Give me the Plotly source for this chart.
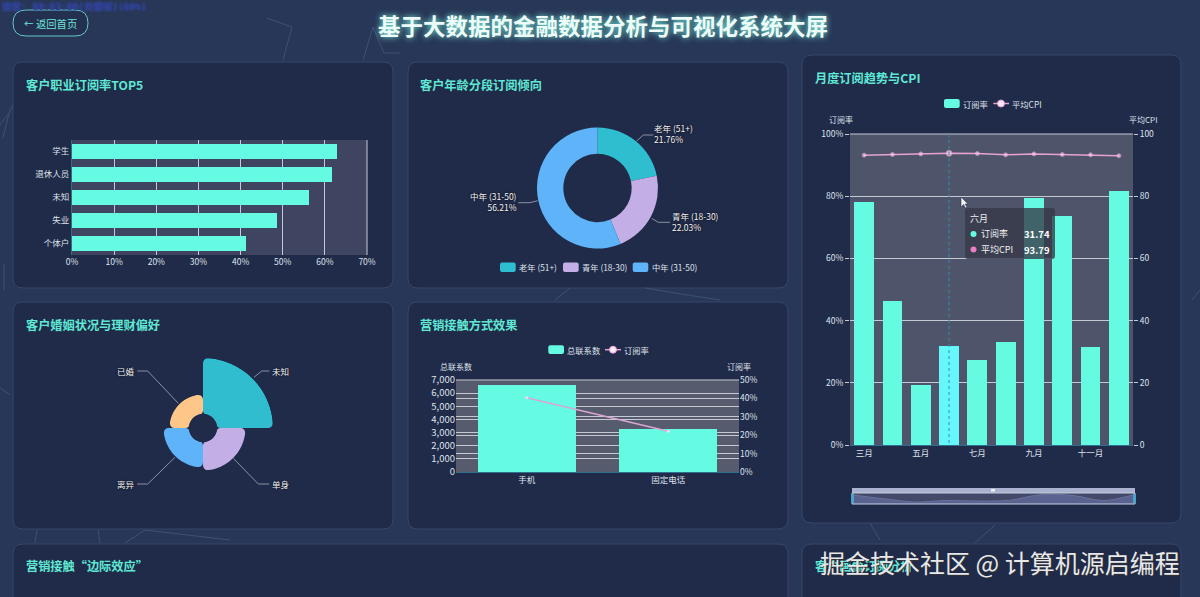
import math

import plotly.graph_objects as go

W, H = 1200, 597

# chart data
job_names = ["学生", "退休人员", "未知", "失业", "个体户"]
job_rate = [62.9, 61.7, 56.2, 48.6, 41.2]

age_names = ["老年 (51+)", "青年 (18-30)", "中年 (31-50)"]
age_share = [21.76, 22.03, 56.21]

marital_names = ["未知", "单身", "离异", "已婚"]
marital_value = [56, 28.5, 25.5, 19.5]

months = ["三月", "四月", "五月", "六月", "七月", "八月", "九月", "十月", "十一月", "十二月"]
month_rate = [78.2, 46.4, 19.3, 31.74, 27.3, 33.0, 79.5, 73.7, 31.5, 81.6]
month_cpi = [93.2, 93.4, 93.6, 93.79, 93.7, 93.3, 93.6, 93.4, 93.3, 93.0]
hover_idx = 3

contact_names = ["手机", "固定电话"]
contact_total = [6640, 3300]
contact_rate = [40.4, 22.2]

TEAL = "#64fbe2"
TITLE = "#5fe8d4"
PINK = "#e8a2d6"
TICK = "#dfe3ea"
GRID = "#c4c9d4"
AGE_COLORS = ["#2fbdd0", "#c3aee6", "#5fb3f8"]
ROSE_COLORS = ["#31bdd0", "#c3aee6", "#5fb3f8", "#ffc68a"]
CJK = "Noto Sans CJK SC"

ROSE_HOLE = 14
ROSE_MAX = 56


def px(x):
    return x / W


def py(y):
    return 1 - y / H


def label(x, y, text, size=9, color=TICK, anchor="left", shadow=None, bold=False, family=CJK):
    font = dict(family=family, size=size, color=color)
    if shadow:
        font["shadow"] = shadow
    if bold:
        text = "<b>" + text + "</b>"
    return dict(x=px(x), y=py(y), xref="paper", yref="paper", text=text, showarrow=False,
                xanchor=anchor, yanchor="middle", font=font, align=anchor)


def round_rect(x0, y0, x1, y1, r, fill, line=None, lw=1, layer="below"):
    p = (f"M{px(x0 + r)},{py(y0)} L{px(x1 - r)},{py(y0)} Q{px(x1)},{py(y0)} {px(x1)},{py(y0 + r)} "
         f"L{px(x1)},{py(y1 - r)} Q{px(x1)},{py(y1)} {px(x1 - r)},{py(y1)} "
         f"L{px(x0 + r)},{py(y1)} Q{px(x0)},{py(y1)} {px(x0)},{py(y1 - r)} "
         f"L{px(x0)},{py(y0 + r)} Q{px(x0)},{py(y0)} {px(x0 + r)},{py(y0)} Z")
    return dict(type="path", path=p, xref="paper", yref="paper", layer=layer,
                fillcolor=fill, line=dict(color=line or fill, width=lw if line else 0))


def card(x0, y0, x1, y1):
    return round_rect(x0, y0, x1, y1, 10, "#202a49", line="#36476b")


def rect(x0, y0, x1, y1, fill, line=None, layer="below", lw=1):
    return dict(type="rect", xref="paper", yref="paper", x0=px(x0), x1=px(x1), y0=py(y0), y1=py(y1),
                fillcolor=fill, line=dict(color=line or fill, width=lw if line else 0), layer=layer)


def polyline(points, color="#8a91a3", width=1, layer="below"):
    p = "M" + " L".join(f"{px(a)},{py(b)}" for a, b in points)
    return dict(type="path", path=p, xref="paper", yref="paper", layer=layer,
                line=dict(color=color, width=width))


def dot(x, y, r, fill, line=None, layer="below"):
    return dict(type="circle", xref="paper", yref="paper", layer=layer, fillcolor=fill,
                line=dict(color=line or fill, width=1 if line else 0),
                x0=px(x - r), x1=px(x + r), y0=py(y - r), y1=py(y + r))


def rounded_sector(value, a0, a1, c=6.0, n=8):
    # outline of a rose sector with soft corners, as (r, theta) for the polar axis
    outer = ROSE_HOLE + value
    inner = ROSE_HOLE

    def to_xy(rho, deg):
        return rho * math.sin(math.radians(deg)), rho * math.cos(math.radians(deg))

    def corner(p0, ctrl, p1):
        out = []
        for i in range(n + 1):
            t = i / n
            out.append(((1 - t) ** 2 * p0[0] + 2 * t * (1 - t) * ctrl[0] + t ** 2 * p1[0],
                        (1 - t) ** 2 * p0[1] + 2 * t * (1 - t) * ctrl[1] + t ** 2 * p1[1]))
        return out

    d_out = math.degrees(c / outer)
    d_in = math.degrees(4.0 / inner)
    pts = []
    for i in range(31):
        pts.append(to_xy(outer, a0 + d_out + (a1 - a0 - 2 * d_out) * i / 30))
    pts += corner(to_xy(outer, a1 - d_out), to_xy(outer, a1), to_xy(outer - c, a1))
    pts += corner(to_xy(inner + 4, a1), to_xy(inner, a1), to_xy(inner, a1 - d_in))
    for i in range(13):
        pts.append(to_xy(inner, a1 - d_in - (a1 - a0 - 2 * d_in) * i / 12))
    pts += corner(to_xy(inner, a0 + d_in), to_xy(inner, a0), to_xy(inner + 4, a0))
    pts += corner(to_xy(outer - c, a0), to_xy(outer, a0), to_xy(outer, a0 + d_out))
    r = [math.hypot(x, y) - ROSE_HOLE for x, y in pts]
    theta = [math.degrees(math.atan2(x, y)) % 360 for x, y in pts]
    return r, theta


fig = go.Figure()

# occupation bars
fig.add_trace(go.Bar(y=job_names, x=job_rate, orientation="h", width=0.68, xaxis="x", yaxis="y",
                     marker=dict(color=TEAL, line=dict(width=0)), showlegend=False))

# age donut
fig.add_trace(go.Pie(labels=age_names, values=age_share, hole=0.565, sort=False, direction="clockwise",
                     rotation=0, textinfo="none", showlegend=False,
                     marker=dict(colors=AGE_COLORS, line=dict(width=0)),
                     domain=dict(x=[px(537), px(658)], y=[py(248.5), py(127.5)])))

# marital rose, one quarter for each group
for i, name in enumerate(marital_names):
    r, theta = rounded_sector(marital_value[i], 90 * i, 90 * (i + 1))
    fig.add_trace(go.Scatterpolar(r=r, theta=theta, mode="lines", fill="toself", name=name,
                                  fillcolor=ROSE_COLORS[i], line=dict(width=0, color=ROSE_COLORS[i]),
                                  subplot="polar", showlegend=False))

# monthly bars and CPI line
fig.add_trace(go.Bar(x=months, y=month_rate, name="订阅率", width=0.7, xaxis="x2", yaxis="y2", showlegend=False,
                     marker=dict(color=["#66f7fb" if i == hover_idx else TEAL for i in range(len(months))],
                                 line=dict(width=0))))
fig.add_trace(go.Scatter(x=months, y=month_cpi, name="平均CPI", mode="lines+markers", xaxis="x2", yaxis="y3",
                         showlegend=False, line=dict(color=PINK, width=1.5),
                         marker=dict(color="#f4d8ee", line=dict(color=PINK, width=1),
                                     size=[6 if i == hover_idx else 4 for i in range(len(months))])))

# contact bars and rate line
fig.add_trace(go.Bar(x=contact_names, y=contact_total, name="总联系数", width=0.69, xaxis="x3", yaxis="y4",
                     showlegend=False, marker=dict(color=TEAL, line=dict(width=0))))
fig.add_trace(go.Scatter(x=contact_names, y=contact_rate, name="订阅率", mode="lines+markers", xaxis="x3", yaxis="y5",
                         showlegend=False, line=dict(color="#d9a6d4", width=1.5),
                         marker=dict(color="#f4d8ee", size=3)))

# data zoom preview
fig.add_trace(go.Scatter(x=months, y=month_rate, mode="lines", line=dict(color="#6a719c", width=1, shape="spline"),
                         fill="tozeroy", fillcolor="#5a628f", xaxis="x4", yaxis="y6", showlegend=False))

shapes = [card(13, 62, 393, 288), card(408, 62, 788, 288), card(802, 55, 1181, 523),
          card(13, 302, 393, 529), card(408, 302, 788, 529), card(13, 544, 788, 640), card(802, 544, 1181, 640)]

# background network
net = [[(267, 18), (292, 27), (283, 60)], [(373, 27), (363, 60)], [(373, 27), (384, 53), (400, 53)],
       [(0, 125), (9, 113), (13, 105)], [(9, 113), (3, 138)], [(4, 264), (4, 290)],
       [(37, 530), (35, 543)], [(98, 530), (100, 543)], [(125, 543), (145, 530), (230, 540)],
       [(0, 388), (10, 395)], [(570, 288), (555, 300)], [(645, 288), (700, 297), (720, 300)],
       [(1192, 300), (1200, 290)], [(870, 523), (880, 540)], [(995, 525), (975, 543)]]
for seg in net:
    shapes.append(polyline(seg, color="#3f5075", width=1))

# plot backgrounds
shapes.append(rect(72, 140, 367, 255, "#3f4560"))
shapes.append(rect(850, 134, 1133, 445, "#4e5469"))
shapes.append(rect(456, 380, 739, 472, "#565c6e"))

# grid lines that fall on the edge of the plot
shapes += [polyline([(367, 140), (367, 255)], color=GRID),
           polyline([(850, 134), (1133, 134)], color=GRID),
           polyline([(456, 380), (739, 380)], color="#9a9fac", width=1.5)]

# leader lines
shapes += [polyline([(636.7, 141), (643.3, 135), (653.3, 135)]),
           polyline([(651.7, 218.3), (658.3, 222.3), (670, 222.3)]),
           polyline([(537.7, 200.7), (530, 202.7), (518.3, 202.7)]),
           polyline([(254, 377.3), (261.7, 371), (269.3, 371)]),
           polyline([(233.3, 458.3), (258.3, 484), (269.3, 484)]),
           polyline([(175, 457.3), (147.7, 484), (137.3, 484)]),
           polyline([(178.3, 403.3), (147.7, 371), (137.3, 371)])]

# legend keys
shapes += [round_rect(500, 262.5, 515.7, 272, 2, AGE_COLORS[0]),
           round_rect(563, 262.5, 578.7, 272, 2, AGE_COLORS[1]),
           round_rect(632.7, 262.5, 648.3, 272, 2, AGE_COLORS[2]),
           round_rect(944, 99, 959.7, 108, 2, TEAL),
           polyline([(993.3, 103.5), (1009, 103.5)], color=PINK, width=1.5),
           dot(1001, 103.5, 3.5, "#fbe8f6", line=PINK),
           round_rect(548.3, 345.3, 564, 354, 2, TEAL),
           polyline([(605, 349.7), (621, 349.7)], color=PINK, width=1.5),
           dot(613, 349.7, 3.5, "#fbe8f6", line=PINK)]

# back button
shapes.append(round_rect(13, 10, 88, 36, 13, "#24304f", line="#5fc9c4"))

# data zoom frame
shapes.append(rect(852, 488, 1135, 493, "#aab2d0", layer="below"))
shapes.append(rect(852, 493, 1135, 504, "#434969", layer="below"))
shapes.append(rect(852, 493, 1135, 504, "rgba(0,0,0,0)", line="#c5d0e0", layer="above"))
shapes.append(rect(851, 494, 854, 503, "#4aa3c8", layer="above"))
shapes.append(rect(1133, 494, 1136, 503, "#4aa3c8", layer="above"))
shapes.append(rect(991, 489, 995, 491.5, "#eef0f6", layer="above"))

# hover pointer and tooltip
shapes.append(dict(type="line", xref="x2", yref="paper", x0=months[hover_idx], x1=months[hover_idx],
                   y0=py(134), y1=py(445), layer="above", line=dict(color="#3a8ab8", width=1, dash="dot")))
shapes.append(round_rect(965, 208, 1055, 259, 3, "rgba(52,56,70,0.78)", layer="above"))
shapes.append(dot(973.5, 234, 3, TEAL, layer="above"))
shapes.append(dot(973.5, 249.5, 3, "#e87fc0", layer="above"))
shapes.append(dict(type="path", xref="paper", yref="paper", layer="above", fillcolor="#f2f3f6",
                   line=dict(color="#22283c", width=0.5),
                   path=f"M{px(961)},{py(197)} L{px(961)},{py(207)} L{px(963.5)},{py(204.5)} L{px(965.5)},{py(208)} "
                        f"L{px(967)},{py(207)} L{px(965)},{py(204)} L{px(968)},{py(204)} Z"))

glow = "0 0 6px #7ffbe6"
halo = "0 0 2px #000"
annotations = [
    label(602.5, 25, "基于大数据的金融数据分析与可视化系统大屏", size=22.5, color="#eefcf9", anchor="center", shadow=glow, bold=True),
    label(0, 6, "搜索: 00:03:00(关键帧)(60%)", size=9.5, color="#26358c", shadow="0 0 2px #4a66e8",
          family="DejaVu Sans Mono, Noto Sans CJK SC"),
    label(22, 23, "←", size=9.5, color="#6fe3d8"),
    label(34, 23, "返回首页", size=10.3, color="#6fe3d8"),
    label(24, 85, "客户职业订阅率TOP5", size=12.2, color=TITLE, bold=True),
    label(418, 85, "客户年龄分段订阅倾向", size=12.2, color=TITLE, bold=True),
    label(813, 78, "月度订阅趋势与CPI", size=12.2, color=TITLE, bold=True),
    label(24, 325, "客户婚姻状况与理财偏好", size=12.2, color=TITLE, bold=True),
    label(418, 325, "营销接触方式效果", size=12.2, color=TITLE, bold=True),
    label(24, 566, "营销接触“边际效应”", size=12.2, color=TITLE, bold=True),
    label(813, 566, "客户画像订阅分析", size=12.2, color=TITLE, bold=True),
    label(1000, 562, "掘金技术社区 @ 计算机源启编程", size=25, color="#e6e8ec", anchor="center", shadow="1px 1px 1px #333"),
    # axis names
    label(841, 120, "订阅率", size=8, anchor="center"),
    label(1143, 120, "平均CPI", size=8, anchor="center"),
    label(456, 366, "总联系数", size=8, anchor="center"),
    label(739, 366, "订阅率", size=8, anchor="center"),
    # legends
    label(517, 267, age_names[0], size=8.3),
    label(580, 267, age_names[1], size=8.3),
    label(649.6, 267, age_names[2], size=8.3),
    label(961, 103.5, "订阅率", size=8.3),
    label(1010, 103.5, "平均CPI", size=8.3),
    label(565, 349.7, "总联系数", size=8.3),
    label(622, 349.7, "订阅率", size=8.3),
    # donut labels
    label(652, 133, f"{age_names[0]}<br>{age_share[0]:.2f}%", size=8.5, color="#f4f4f4", shadow=halo),
    label(670, 221, f"{age_names[1]}<br>{age_share[1]:.2f}%", size=8.5, color="#f4f4f4", shadow=halo),
    label(519, 201, f"{age_names[2]}<br>{age_share[2]:.2f}%", size=8.5, color="#f4f4f4", anchor="right", shadow=halo),
    # rose labels
    label(280, 371, marital_names[0], size=8.5, color="#f4f4f4", anchor="center", shadow=halo),
    label(280, 484, marital_names[1], size=8.5, color="#f4f4f4", anchor="center", shadow=halo),
    label(126, 484, marital_names[2], size=8.5, color="#f4f4f4", anchor="center", shadow=halo),
    label(126, 371, marital_names[3], size=8.5, color="#f4f4f4", anchor="center", shadow=halo),
    # tooltip
    label(968, 219, months[hover_idx], size=9, color="#f0f0f0"),
    label(979, 234, "订阅率", size=9, color="#f0f0f0"),
    label(979, 249.5, "平均CPI", size=9, color="#f0f0f0"),
    label(1052, 234, f"{month_rate[hover_idx]:.2f}", size=9.5, color="#ffffff", anchor="right", bold=True),
    label(1052, 249.5, f"{month_cpi[hover_idx]:.2f}", size=9.5, color="#ffffff", anchor="right", bold=True),
]

tick_font = dict(family=CJK, size=8.5, color=TICK)
big_tick_font = dict(family=CJK, size=9.5, color=TICK)
grid = dict(showgrid=True, gridcolor=GRID, gridwidth=1, zeroline=False, tickfont=tick_font, ticks="")
tick_marks = dict(ticks="outside", ticklen=4, tickcolor=GRID)


def dom(a, b):
    return [a / W, b / W]


def vdom(top, bottom):
    return [py(bottom), py(top)]


fig.update_layout(
    width=W, height=H, autosize=False,
    margin=dict(l=0, r=0, t=0, b=0, autoexpand=False),
    paper_bgcolor="#283757", plot_bgcolor="rgba(0,0,0,0)",
    bargap=0, showlegend=False,
    font=dict(family=CJK, color=TICK),
    shapes=shapes, annotations=annotations,
    xaxis=dict(domain=dom(72, 367), anchor="y", range=[0, 70], dtick=10, ticksuffix="%", **grid),
    yaxis=dict(domain=vdom(140, 255), anchor="x", autorange="reversed", showgrid=False, zeroline=False,
               tickfont=tick_font, showline=True, linecolor="#2f6f8c", ticklen=0, ticks=""),
    xaxis2=dict(domain=dom(850, 1133), anchor="y2", range=[-0.5, 9.5], tickvals=months[::2], showgrid=False,
                showline=True, linecolor="#2f6f8c", tickfont=tick_font, ticks="",
                categoryorder="array", categoryarray=months),
    yaxis2=dict(domain=vdom(134, 445), anchor="x2", range=[0, 100], dtick=20, ticksuffix="%",
                **{**grid, **tick_marks}),
    yaxis3=dict(domain=vdom(134, 445), anchor="x2", overlaying="y2", side="right", range=[0, 100], dtick=20,
                **{**grid, **tick_marks, "showgrid": False}),
    xaxis3=dict(domain=dom(456, 739), anchor="y4", range=[-0.5, 1.5], showgrid=False, showline=True,
                linecolor="#2f6f8c", tickfont=tick_font, ticks=""),
    yaxis4=dict(domain=vdom(380, 472), anchor="x3", range=[0, 7000], dtick=1000, tickformat=",",
                **{**grid, "tickfont": big_tick_font}),
    yaxis5=dict(domain=vdom(380, 472), anchor="x3", overlaying="y4", side="right", range=[0, 50], dtick=10,
                ticksuffix="%", **grid),
    xaxis4=dict(domain=dom(852, 1135), anchor="y6", visible=False, range=[0, 9],
                categoryorder="array", categoryarray=months),
    yaxis6=dict(domain=vdom(493, 504), anchor="x4", visible=False, range=[3, 93]),
    polar=dict(domain=dict(x=dom(133, 273), y=[py(498), py(358)]), hole=ROSE_HOLE / (ROSE_HOLE + ROSE_MAX),
               bgcolor="rgba(0,0,0,0)",
               radialaxis=dict(visible=False, range=[0, ROSE_MAX]),
               angularaxis=dict(visible=False, direction="clockwise", rotation=90)),
)

fig.write_html("out.html", config={"displayModeBar": False},
               post_script="document.body.style.margin='0';document.body.style.overflow='hidden';")
